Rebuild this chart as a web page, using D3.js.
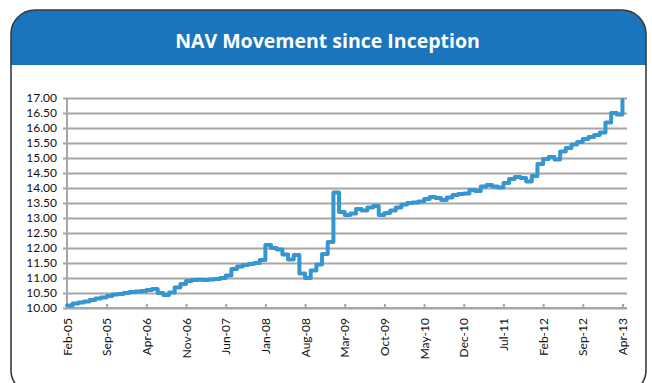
<!DOCTYPE html>
<html>
<head>
<meta charset="utf-8">
<script src="https://cdn.jsdelivr.net/npm/d3@7/dist/d3.min.js"></script>
<style>
  html, body { margin: 0; padding: 0; background: #ffffff; }
  svg { display: block; }
</style>
</head>
<body>
<svg id="chart" width="652" height="383"></svg>
<script>
// Month-end NAV per unit, Feb-05 (index 0) through Apr-13 (index 98)
const navValues = [
  10.08, 10.15, 10.18, 10.22, 10.27, 10.32, 10.35, 10.40, 10.45, 10.47,
  10.50, 10.53, 10.55, 10.57, 10.60, 10.63, 10.50, 10.43, 10.52, 10.68,
  10.80, 10.90, 10.93, 10.94, 10.93, 10.95, 10.97, 11.00, 11.08, 11.30,
  11.38, 11.43, 11.47, 11.50, 11.60, 12.10, 12.00, 11.95, 11.78, 11.62,
  11.77, 11.15, 11.00, 11.25, 11.45, 11.80, 12.20, 13.85, 13.20, 13.10,
  13.15, 13.30, 13.25, 13.35, 13.40, 13.10, 13.17, 13.25, 13.35, 13.45,
  13.50, 13.52, 13.55, 13.63, 13.70, 13.67, 13.60, 13.68, 13.77, 13.80,
  13.82, 13.93, 13.90, 14.05, 14.10, 14.05, 14.02, 14.17, 14.30, 14.37,
  14.33, 14.22, 14.40, 14.80, 14.97, 15.03, 14.95, 15.22, 15.33, 15.45,
  15.53, 15.63, 15.70, 15.77, 15.85, 16.18, 16.50, 16.45, 16.93
];

// Category axis labels, one every seven months
const tickLabels = [
  "Feb-05", "Sep-05", "Apr-06", "Nov-06", "Jun-07", "Jan-08", "Aug-08", "Mar-09",
  "Oct-09", "May-10", "Dec-10", "Jul-11", "Feb-12", "Sep-12", "Apr-13"
];
const tickMonths = [0, 7, 14, 21, 28, 35, 42, 49, 56, 63, 70, 77, 84, 91, 98];

// Value axis ticks
const yTicks = [10, 10.5, 11, 11.5, 12, 12.5, 13, 13.5, 14, 14.5, 15, 15.5, 16, 16.5, 17];

const title = "NAV Movement since Inception";

const svg = d3.select("#chart");

// Card frame with rounded corners and a blue header band
const frame = { x: 11, y: 10, w: 635, h: 384, r: 24 };
const headerH = 55;

const defs = svg.append("defs");
defs.append("clipPath").attr("id", "cardClip")
  .append("rect")
  .attr("x", frame.x).attr("y", frame.y)
  .attr("width", frame.w).attr("height", frame.h)
  .attr("rx", frame.r).attr("ry", frame.r);

svg.append("rect")
  .attr("x", frame.x).attr("y", frame.y)
  .attr("width", frame.w).attr("height", frame.h)
  .attr("rx", frame.r).attr("ry", frame.r)
  .attr("fill", "#ffffff");

svg.append("rect")
  .attr("clip-path", "url(#cardClip)")
  .attr("x", frame.x).attr("y", frame.y)
  .attr("width", frame.w).attr("height", headerH)
  .attr("fill", "#1b75bc");

svg.append("rect")
  .attr("x", frame.x).attr("y", frame.y)
  .attr("width", frame.w).attr("height", frame.h)
  .attr("rx", frame.r).attr("ry", frame.r)
  .attr("fill", "none")
  .attr("stroke", "#3a3a3a")
  .attr("stroke-width", 1.6);

svg.append("text")
  .attr("x", frame.x + frame.w / 2 - 1)
  .attr("y", 48)
  .attr("text-anchor", "middle")
  .attr("fill", "#ffffff")
  .attr("font-family", "'Open Sans', 'Noto Sans', sans-serif")
  .attr("font-weight", 700)
  .attr("font-size", "19.5px")
  .text(title);

// Plot area
const plot = { left: 67, right: 627, top: 98, bottom: 308 };

const x = d3.scaleLinear()
  .domain([0, 98.8])
  .range([plot.left, plot.right]);

const y = d3.scaleLinear()
  .domain([10, 17])
  .range([plot.bottom, plot.top]);

const gridColor = "#a6a6a6";
const axisFont = "Lato, 'Open Sans', sans-serif";

// Horizontal gridlines with outward ticks on the value axis
const yAxis = d3.axisLeft(y)
  .tickValues(yTicks)
  .tickFormat(d3.format(".2f"))
  .tickSize(-(plot.right - plot.left))
  .tickPadding(10);

const gy = svg.append("g")
  .attr("transform", `translate(${plot.left},0)`)
  .call(yAxis);
gy.select(".domain").remove();
gy.selectAll(".tick line")
  .attr("x1", -4)
  .attr("stroke", gridColor)
  .attr("stroke-width", 2);
gy.selectAll(".tick text")
  .attr("fill", "#111111")
  .attr("font-family", axisFont)
  .attr("font-size", "12px");

// Vertical value-axis line
svg.append("line")
  .attr("x1", plot.left).attr("x2", plot.left)
  .attr("y1", plot.top).attr("y2", plot.bottom)
  .attr("stroke", gridColor)
  .attr("stroke-width", 2);

// Category axis: baseline, inward tick marks and rotated labels
const xAxis = d3.axisBottom(x)
  .tickValues(tickMonths)
  .tickFormat((d, i) => tickLabels[i])
  .tickSize(-4)
  .tickPadding(0);

const gx = svg.append("g")
  .attr("transform", `translate(0,${plot.bottom})`)
  .call(xAxis);
gx.select(".domain")
  .attr("stroke", gridColor)
  .attr("stroke-width", 2)
  .attr("d", `M${plot.left},0H${plot.right}`);
gx.selectAll(".tick line")
  .attr("stroke", gridColor)
  .attr("stroke-width", 2);
gx.selectAll(".tick text")
  .attr("fill", "#111111")
  .attr("font-family", axisFont)
  .attr("font-size", "12px")
  .attr("text-anchor", "end")
  .attr("dy", "0.35em")
  .attr("transform", "translate(0,10) rotate(-90)")
  .attr("x", 0)
  .attr("y", 0);

// NAV line
const line = d3.line()
  .x((d, i) => x(i))
  .y(d => y(d))
  .curve(d3.curveStepAfter);

svg.append("path")
  .datum(navValues)
  .attr("fill", "none")
  .attr("stroke", "#3596d2")
  .attr("stroke-width", 4)
  .attr("stroke-linejoin", "round")
  .attr("stroke-linecap", "round")
  .attr("d", line);
</script>
</body>
</html>
